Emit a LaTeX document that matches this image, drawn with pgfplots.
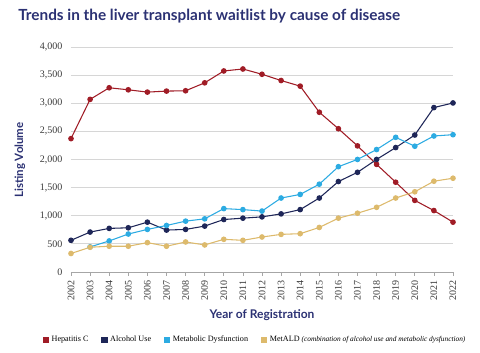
\documentclass[border=0pt]{standalone}
\usepackage{pgfplots}
\pgfplotsset{compat=1.18}
\usepackage{fontspec}
\setmainfont{Liberation Serif}
\newfontfamily\titlefont{Lato}
\definecolor{hepc}{HTML}{A01C26}
\definecolor{alco}{HTML}{1E2658}
\definecolor{metab}{HTML}{2CABE2}
\definecolor{metald}{HTML}{DDBA6C}
\definecolor{navytxt}{HTML}{2B3173}
\definecolor{gridc}{HTML}{D6D6D6}
\definecolor{tickc}{HTML}{3A3A3A}
\begin{document}
\begin{tikzpicture}
\useasboundingbox (0,0) rectangle (360pt,264.75pt);
\node[anchor=west,inner sep=0pt,text=navytxt,font=\titlefont\bfseries\fontsize{11.5}{13}\selectfont] at (13.5pt,252.75pt) {Trends in the liver transplant waitlist by cause of disease};
\node[rotate=90,inner sep=0pt,text=navytxt,font=\titlefont\bfseries\fontsize{8.6}{10}\selectfont] at (15pt,144.75pt) {Listing Volume};
\node[inner sep=0pt,text=navytxt,font=\titlefont\bfseries\fontsize{9}{11}\selectfont] at (196.5pt,28.5pt) {Year of Registration};
\begin{axis}[
  at={(53.25pt,60.75pt)}, anchor=south west,
  scale only axis, width=286.5pt, height=168.75pt,
  xmin=2002, xmax=2022, ymin=0, ymax=4000,
  axis x line*=bottom, axis y line*=left,
  y axis line style={draw=none},
  x axis line style={draw=gray!70, line width=0.6pt},
  xtick={2002,...,2022}, ytick={0,500,...,4000},
  tick align=outside,
  xtick style={draw=gray!70, line width=0.5pt},
  major tick length=3pt,
  ytick style={draw=none},
  ymajorgrids, grid style={draw=gridc, line width=0.7pt},
  scaled y ticks=false,
  /pgf/number format/assume math mode=true,
  yticklabel style={font=\fontsize{7.5}{9}\selectfont, text=tickc, /pgf/number format/.cd, 1000 sep={,}},
  xticklabel style={font=\fontsize{7.5}{9}\selectfont, text=tickc, rotate=90, anchor=east, /pgf/number format/.cd, 1000 sep={}},
  every mark/.append style={solid},
  legend columns=4,
  legend style={at={(-0.075,-0.302)}, anchor=west, draw=none, fill=none, font=\fontsize{6.1}{8}\selectfont, inner sep=0pt,
    /tikz/every even column/.append style={column sep=7.5pt}},
  legend cell align=left,
]
\addplot[color=hepc, line width=0.8pt, mark=*, mark size=1.7pt,
  legend image code/.code={\fill[hepc,draw=none] (0pt,-2.4pt) rectangle (4.8pt,2.4pt);}]
 coordinates {(2002,2371)(2003,3069)(2004,3275)(2005,3239)(2006,3198)(2007,3216)(2008,3222)(2009,3363)(2010,3574)(2011,3609)(2012,3515)(2013,3404)(2014,3304)(2015,2840)(2016,2547)(2017,2242)(2018,1913)(2019,1596)(2020,1273)(2021,1092)(2022,886)};
\addlegendentry{Hepatitis C}
\addplot[color=alco, line width=0.8pt, mark=*, mark size=1.7pt,
  legend image code/.code={\fill[alco,draw=none] (0pt,-2.4pt) rectangle (4.8pt,2.4pt);}]
 coordinates {(2002,563)(2003,710)(2004,775)(2005,786)(2006,886)(2007,745)(2008,757)(2009,816)(2010,933)(2011,957)(2012,980)(2013,1033)(2014,1109)(2015,1315)(2016,1608)(2017,1772)(2018,2001)(2019,2212)(2020,2435)(2021,2923)(2022,3005)};
\addlegendentry{Alcohol Use}
\addplot[color=metab, line width=0.8pt, mark=*, mark size=1.7pt,
  legend image code/.code={\fill[metab,draw=none] (0pt,-2.4pt) rectangle (4.8pt,2.4pt);}]
 coordinates {(2003,446)(2004,552)(2005,675)(2006,757)(2007,827)(2008,904)(2009,945)(2010,1127)(2011,1109)(2012,1083)(2013,1315)(2014,1379)(2015,1561)(2016,1872)(2017,2001)(2018,2177)(2019,2394)(2020,2236)(2021,2418)(2022,2441)};
\addlegendentry{Metabolic Dysfunction}
\addplot[color=metald, line width=0.8pt, mark=*, mark size=1.7pt,
  legend image code/.code={\fill[metald,draw=none] (0pt,-2.4pt) rectangle (4.8pt,2.4pt);}]
 coordinates {(2002,329)(2003,440)(2004,458)(2005,458)(2006,522)(2007,458)(2008,534)(2009,481)(2010,581)(2011,563)(2012,622)(2013,669)(2014,681)(2015,792)(2016,957)(2017,1045)(2018,1150)(2019,1315)(2020,1426)(2021,1614)(2022,1667)};
\addlegendentry{MetALD {\itshape\fontsize{5.5}{7}\selectfont (combination of alcohol use and metabolic dysfunction)}}
\end{axis}
\end{tikzpicture}
\end{document}
